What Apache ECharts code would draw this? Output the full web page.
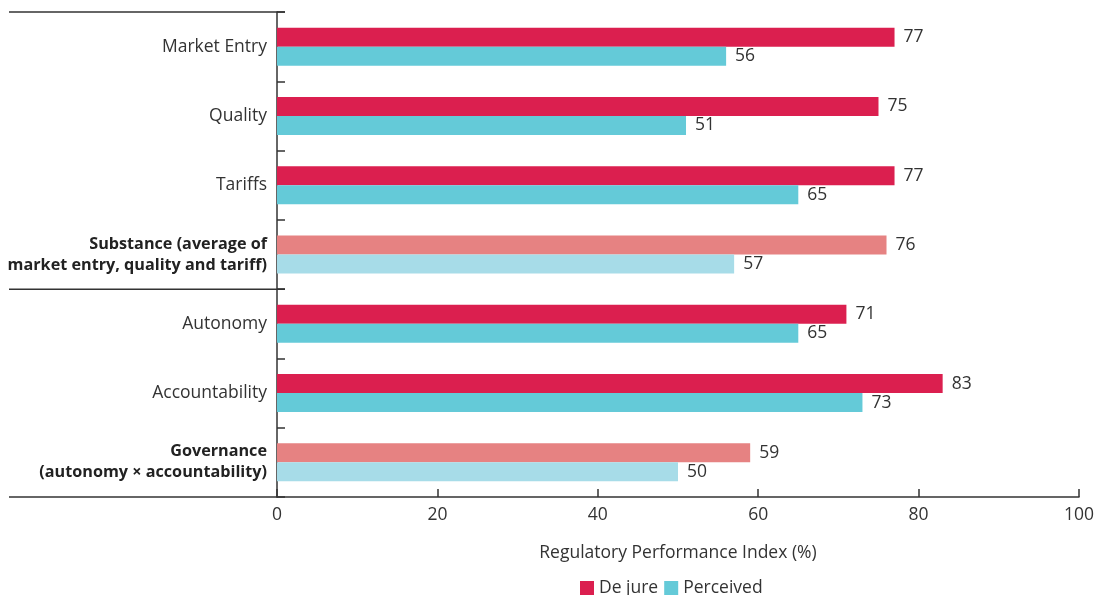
<!DOCTYPE html>
<html>
<head>
<meta charset="utf-8">
<script src="https://cdn.jsdelivr.net/npm/echarts@6/dist/echarts.min.js"></script>
<style>html,body{margin:0;padding:0;background:#fff}#c{width:1097px;height:595px}</style>
</head>
<body>
<div id="c"></div>
<script>
const categories = [
  "Market Entry",
  "Quality",
  "Tariffs",
  "Substance (average of\nmarket entry, quality and tariff)",
  "Autonomy",
  "Accountability",
  "Governance\n(autonomy \u00d7 accountability)"
];
const summaryCategories = [
  "Substance (average of\nmarket entry, quality and tariff)",
  "Governance\n(autonomy \u00d7 accountability)"
];
const deJure = [77, 75, 77, 76, 71, 83, 59];
const perceived = [56, 51, 65, 57, 65, 73, 50];
const xTicks = [0, 20, 40, 60, 80, 100];

const FONT = "'Open Sans', sans-serif";
const TXT = '#333333';
const FS = 17.5;
const colors = {
  deJure: '#DB1F4F', deJureLight: '#E68282',
  perceived: '#64CAD8', perceivedLight: '#A7DCE8'
};

function build(vals, c, cLight) {
  return vals.map((v, i) => ({
    value: v,
    itemStyle: { color: summaryCategories.includes(categories[i]) ? cLight : c }
  }));
}

const chart = echarts.init(document.getElementById('c'), null, { renderer: 'canvas' });
const labelCfg = { show: true, position: 'right', distance: 9, color: TXT, fontFamily: FONT, fontSize: FS };

chart.setOption({
  animation: false,
  textStyle: { fontFamily: FONT },
  grid: { left: 277, right: 15, top: 12, bottom: 98, containLabel: false },
  legend: {
    data: [
      { name: 'De jure', itemStyle: { color: colors.deJure } },
      { name: 'Perceived', itemStyle: { color: colors.perceived } }
    ],
    left: 575, top: 574, icon: 'rect', itemWidth: 14, itemHeight: 14, itemGap: 6,
    textStyle: { color: TXT, fontFamily: FONT, fontSize: FS }
  },
  xAxis: {
    type: 'value', min: xTicks[0], max: xTicks[xTicks.length - 1], interval: 20,
    name: 'Regulatory Performance Index (%)', nameLocation: 'middle', nameGap: 47,
    nameTextStyle: { color: TXT, fontFamily: FONT, fontSize: FS },
    axisLine: { show: true, lineStyle: { color: '#333', width: 1.5 } },
    axisTick: { show: true, inside: true, length: 8, lineStyle: { color: '#333', width: 1.5 } },
    axisLabel: { color: TXT, fontFamily: FONT, fontSize: FS, margin: 9 },
    splitLine: { show: false }
  },
  yAxis: {
    type: 'category', data: categories, inverse: true,
    axisLine: { show: true, lineStyle: { color: '#333', width: 1.5 } },
    axisTick: { show: true, inside: true, length: 8, lineStyle: { color: '#333', width: 1.5 } },
    axisLabel: {
      margin: 10, color: TXT, fontFamily: FONT, fontSize: FS, lineHeight: 21,
      formatter: function (v) {
        if (summaryCategories.includes(v)) {
          return v.split('\n').map(l => '{b|' + l + '}').join('\n');
        }
        return v;
      },
      rich: { b: { fontWeight: 'bold', color: '#222', fontFamily: FONT, fontSize: 16.2, lineHeight: 21 } }
    }
  },
  series: [
    { name: 'De jure', type: 'bar', data: build(deJure, colors.deJure, colors.deJureLight),
      barWidth: 19, barGap: '0%', label: labelCfg },
    { name: 'Perceived', type: 'bar', data: build(perceived, colors.perceived, colors.perceivedLight),
      barWidth: 19, barGap: '0%', label: labelCfg }
  ]
});

// Decorative bracket lines extending the axes to the left
(function () {
  const y0 = chart.convertToPixel({ yAxisIndex: 0 }, categories[0]);
  const y1 = chart.convertToPixel({ yAxisIndex: 0 }, categories[1]);
  const band = y1 - y0;
  const ySub = chart.convertToPixel({ yAxisIndex: 0 }, categories[3]);
  const yLast = chart.convertToPixel({ yAxisIndex: 0 }, categories[categories.length - 1]);
  const xAxisX = chart.convertToPixel({ xAxisIndex: 0 }, 0);
  const leftX = 9;
  const ls = { stroke: '#333', lineWidth: 1.5 };
  chart.setOption({
    graphic: [
      { type: 'line', shape: { x1: leftX, y1: y0 - band / 2, x2: xAxisX + 8, y2: y0 - band / 2 }, style: ls },
      { type: 'line', shape: { x1: leftX, y1: ySub + band / 2, x2: xAxisX + 8, y2: ySub + band / 2 }, style: ls },
      { type: 'line', shape: { x1: leftX, y1: yLast + band / 2, x2: xAxisX, y2: yLast + band / 2 }, style: ls }
    ]
  });
})();
</script>
</body>
</html>
